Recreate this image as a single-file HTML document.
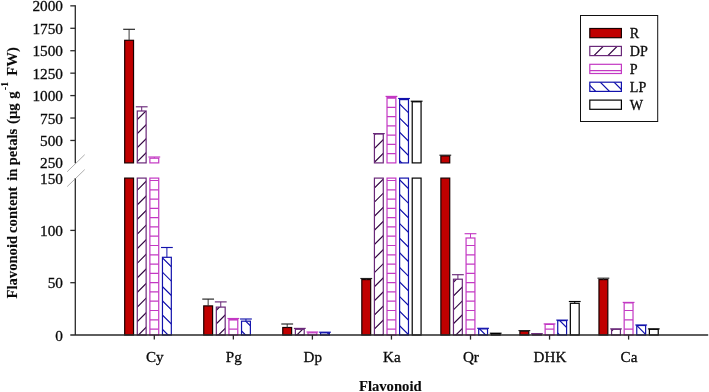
<!DOCTYPE html>
<html><head><meta charset="utf-8"><title>Flavonoid content in petals</title>
<style>
html,body{margin:0;padding:0;background:#fff;}
body{width:709px;height:392px;overflow:hidden;}
svg text{font-family:"Liberation Serif","DejaVu Serif",serif;fill:#0a0a0a;stroke:#0a0a0a;stroke-width:0.3px;}
svg .b text, svg text.b{stroke-width:0.1px;}
</style></head><body>
<svg width="709" height="392" viewBox="0 0 709 392" style="display:block;will-change:transform">
<rect width="709" height="392" fill="#fff"/>
<rect x="124.68" y="40.30" width="8.85" height="122.60" fill="#c00000" stroke="#1a0000" stroke-width="1.2"/><path d="M129.10,40.30V29.30" stroke="#3a3a3a" stroke-width="1" fill="none"/><path d="M123.20,29.30H135.00" stroke="#222" stroke-width="1.15" fill="none"/>
<rect x="124.68" y="178.10" width="8.85" height="156.90" fill="#c00000" stroke="#1a0000" stroke-width="1.2"/>
<clipPath id="c1"><rect x="137.28" y="111.00" width="8.85" height="51.90"/></clipPath><rect x="137.28" y="111.00" width="8.85" height="51.90" fill="#fff"/><path clip-path="url(#c1)" d="M135.28,79.60L148.12,66.75M135.28,93.60L148.12,80.75M135.28,107.60L148.12,94.75M135.28,121.60L148.12,108.75M135.28,135.60L148.12,122.75M135.28,149.60L148.12,136.75M135.28,163.60L148.12,150.75M135.28,177.60L148.12,164.75M135.28,191.60L148.12,178.75" stroke="#350a44" stroke-width="1.2" fill="none"/><rect x="137.28" y="111.00" width="8.85" height="51.90" fill="none" stroke="#6a2879" stroke-width="1.2"/><path d="M141.70,111.00V106.80" stroke="#6a2879" stroke-width="1" fill="none"/><path d="M135.80,106.80H147.60" stroke="#6a2879" stroke-width="1.15" fill="none"/>
<clipPath id="c2"><rect x="137.28" y="178.10" width="8.85" height="156.90"/></clipPath><rect x="137.28" y="178.10" width="8.85" height="156.90" fill="#fff"/><path clip-path="url(#c2)" d="M135.28,148.40L148.12,135.55M135.28,163.00L148.12,150.15M135.28,177.60L148.12,164.75M135.28,192.20L148.12,179.35M135.28,206.80L148.12,193.95M135.28,221.40L148.12,208.55M135.28,236.00L148.12,223.15M135.28,250.60L148.12,237.75M135.28,265.20L148.12,252.35M135.28,279.80L148.12,266.95M135.28,294.40L148.12,281.55M135.28,309.00L148.12,296.15M135.28,323.60L148.12,310.75M135.28,338.20L148.12,325.35M135.28,352.80L148.12,339.95M135.28,367.40L148.12,354.55" stroke="#350a44" stroke-width="1.2" fill="none"/><rect x="137.28" y="178.10" width="8.85" height="156.90" fill="none" stroke="#6a2879" stroke-width="1.2"/>
<clipPath id="c3"><rect x="149.88" y="158.20" width="8.85" height="4.70"/></clipPath><rect x="149.88" y="158.20" width="8.85" height="4.70" fill="#fff"/><rect x="149.88" y="158.20" width="8.85" height="4.70" fill="none" stroke="#c338c3" stroke-width="1.2"/><path d="M154.30,158.20V157.00" stroke="#c338c3" stroke-width="1" fill="none"/><path d="M148.40,157.00H160.20" stroke="#c338c3" stroke-width="1.15" fill="none"/>
<clipPath id="c4"><rect x="149.88" y="178.10" width="8.85" height="156.90"/></clipPath><rect x="149.88" y="178.10" width="8.85" height="156.90" fill="#fff"/><path clip-path="url(#c4)" d="M149.88,329.07h8.85M149.88,319.78h8.85M149.88,310.50h8.85M149.88,301.21h8.85M149.88,291.93h8.85M149.88,282.64h8.85M149.88,273.35h8.85M149.88,264.07h8.85M149.88,254.78h8.85M149.88,245.50h8.85M149.88,236.21h8.85M149.88,226.92h8.85M149.88,217.64h8.85M149.88,208.35h8.85M149.88,199.07h8.85M149.88,189.78h8.85M149.88,180.49h8.85" stroke="#c338c3" stroke-width="1.2" fill="none"/><rect x="149.88" y="178.10" width="8.85" height="156.90" fill="none" stroke="#c338c3" stroke-width="1.2"/>
<clipPath id="c5"><rect x="162.47" y="257.30" width="8.85" height="77.70"/></clipPath><rect x="162.47" y="257.30" width="8.85" height="77.70" fill="#fff"/><path clip-path="url(#c5)" d="M160.47,227.30L173.32,240.15M160.47,241.60L173.32,254.45M160.47,255.90L173.32,268.75M160.47,270.20L173.32,283.05M160.47,284.50L173.32,297.35M160.47,298.80L173.32,311.65M160.47,313.10L173.32,325.95M160.47,327.40L173.32,340.25M160.47,341.70L173.32,354.55M160.47,356.00L173.32,368.85M160.47,370.30L173.32,383.15" stroke="#1212ac" stroke-width="1.2" fill="none"/><rect x="162.47" y="257.30" width="8.85" height="77.70" fill="none" stroke="#1212ac" stroke-width="1.2"/><path d="M166.90,257.30V247.50" stroke="#1212ac" stroke-width="1" fill="none"/><path d="M161.00,247.50H172.80" stroke="#1212ac" stroke-width="1.15" fill="none"/>
<rect x="203.73" y="305.90" width="8.85" height="29.10" fill="#c00000" stroke="#1a0000" stroke-width="1.2"/><path d="M208.15,305.90V299.10" stroke="#3a3a3a" stroke-width="1" fill="none"/><path d="M202.25,299.10H214.05" stroke="#222" stroke-width="1.15" fill="none"/>
<clipPath id="c6"><rect x="216.33" y="307.10" width="8.85" height="27.90"/></clipPath><rect x="216.33" y="307.10" width="8.85" height="27.90" fill="#fff"/><path clip-path="url(#c6)" d="M214.33,285.20L227.18,272.35M214.33,298.70L227.18,285.85M214.33,312.20L227.18,299.35M214.33,325.70L227.18,312.85M214.33,339.20L227.18,326.35M214.33,352.70L227.18,339.85M214.33,366.20L227.18,353.35" stroke="#350a44" stroke-width="1.2" fill="none"/><rect x="216.33" y="307.10" width="8.85" height="27.90" fill="none" stroke="#6a2879" stroke-width="1.2"/><path d="M220.75,307.10V301.90" stroke="#6a2879" stroke-width="1" fill="none"/><path d="M214.85,301.90H226.65" stroke="#6a2879" stroke-width="1.15" fill="none"/>
<clipPath id="c7"><rect x="228.93" y="319.50" width="8.85" height="15.50"/></clipPath><rect x="228.93" y="319.50" width="8.85" height="15.50" fill="#fff"/><path clip-path="url(#c7)" d="M228.93,329.07h8.85M228.93,319.78h8.85" stroke="#c338c3" stroke-width="1.2" fill="none"/><rect x="228.93" y="319.50" width="8.85" height="15.50" fill="none" stroke="#c338c3" stroke-width="1.2"/><path d="M233.35,319.50V318.50" stroke="#c338c3" stroke-width="1" fill="none"/><path d="M227.45,318.50H239.25" stroke="#c338c3" stroke-width="1.15" fill="none"/>
<clipPath id="c8"><rect x="241.53" y="321.20" width="8.85" height="13.80"/></clipPath><rect x="241.53" y="321.20" width="8.85" height="13.80" fill="#fff"/><path clip-path="url(#c8)" d="M239.53,287.00L252.38,299.85M239.53,301.00L252.38,313.85M239.53,315.00L252.38,327.85M239.53,329.00L252.38,341.85M239.53,343.00L252.38,355.85M239.53,357.00L252.38,369.85" stroke="#1212ac" stroke-width="1.2" fill="none"/><rect x="241.53" y="321.20" width="8.85" height="13.80" fill="none" stroke="#1212ac" stroke-width="1.2"/><path d="M245.95,321.20V319.00" stroke="#1212ac" stroke-width="1" fill="none"/><path d="M240.05,319.00H251.85" stroke="#1212ac" stroke-width="1.15" fill="none"/>
<rect x="282.77" y="327.50" width="8.85" height="7.50" fill="#c00000" stroke="#1a0000" stroke-width="1.2"/><path d="M287.20,327.50V324.00" stroke="#3a3a3a" stroke-width="1" fill="none"/><path d="M281.30,324.00H293.10" stroke="#222" stroke-width="1.15" fill="none"/>
<clipPath id="c9"><rect x="295.37" y="329.30" width="8.85" height="5.70"/></clipPath><rect x="295.37" y="329.30" width="8.85" height="5.70" fill="#fff"/><path clip-path="url(#c9)" d="M293.37,296.50L306.22,283.65M293.37,310.50L306.22,297.65M293.37,324.50L306.22,311.65M293.37,338.50L306.22,325.65M293.37,352.50L306.22,339.65M293.37,366.50L306.22,353.65" stroke="#350a44" stroke-width="1.2" fill="none"/><rect x="295.37" y="329.30" width="8.85" height="5.70" fill="none" stroke="#6a2879" stroke-width="1.2"/><path d="M299.80,329.30V328.40" stroke="#6a2879" stroke-width="1" fill="none"/><path d="M293.90,328.40H305.70" stroke="#6a2879" stroke-width="1.15" fill="none"/>
<clipPath id="c10"><rect x="307.97" y="332.80" width="8.85" height="2.20"/></clipPath><rect x="307.97" y="332.80" width="8.85" height="2.20" fill="#fff"/><rect x="307.97" y="332.80" width="8.85" height="2.20" fill="none" stroke="#c338c3" stroke-width="1.2"/><path d="M312.40,332.80V332.00" stroke="#c338c3" stroke-width="1" fill="none"/><path d="M306.50,332.00H318.30" stroke="#c338c3" stroke-width="1.15" fill="none"/>
<clipPath id="c11"><rect x="320.57" y="332.80" width="8.85" height="2.20"/></clipPath><rect x="320.57" y="332.80" width="8.85" height="2.20" fill="#fff"/><path clip-path="url(#c11)" d="M318.57,296.00L331.43,308.85M318.57,310.00L331.43,322.85M318.57,324.00L331.43,336.85M318.57,338.00L331.43,350.85M318.57,352.00L331.43,364.85M318.57,366.00L331.43,378.85" stroke="#1212ac" stroke-width="1.2" fill="none"/><rect x="320.57" y="332.80" width="8.85" height="2.20" fill="none" stroke="#1212ac" stroke-width="1.2"/><path d="M325.00,332.80V332.20" stroke="#1212ac" stroke-width="1" fill="none"/><path d="M319.10,332.20H330.90" stroke="#1212ac" stroke-width="1.15" fill="none"/>
<rect x="361.82" y="279.60" width="8.85" height="55.40" fill="#c00000" stroke="#1a0000" stroke-width="1.2"/><path d="M366.25,279.60V278.50" stroke="#3a3a3a" stroke-width="1" fill="none"/><path d="M360.35,278.50H372.15" stroke="#222" stroke-width="1.15" fill="none"/>
<clipPath id="c12"><rect x="374.42" y="134.00" width="8.85" height="28.90"/></clipPath><rect x="374.42" y="134.00" width="8.85" height="28.90" fill="#fff"/><path clip-path="url(#c12)" d="M372.42,109.10L385.27,96.25M372.42,122.90L385.27,110.05M372.42,136.70L385.27,123.85M372.42,150.50L385.27,137.65M372.42,164.30L385.27,151.45M372.42,178.10L385.27,165.25M372.42,191.90L385.27,179.05" stroke="#350a44" stroke-width="1.2" fill="none"/><rect x="374.42" y="134.00" width="8.85" height="28.90" fill="none" stroke="#6a2879" stroke-width="1.2"/><path d="M378.85,134.00V133.60" stroke="#6a2879" stroke-width="1" fill="none"/><path d="M372.95,133.60H384.75" stroke="#6a2879" stroke-width="1.15" fill="none"/>
<clipPath id="c13"><rect x="374.42" y="178.10" width="8.85" height="156.90"/></clipPath><rect x="374.42" y="178.10" width="8.85" height="156.90" fill="#fff"/><path clip-path="url(#c13)" d="M372.42,147.70L385.27,134.85M372.42,161.80L385.27,148.95M372.42,175.90L385.27,163.05M372.42,190.00L385.27,177.15M372.42,204.10L385.27,191.25M372.42,218.20L385.27,205.35M372.42,232.30L385.27,219.45M372.42,246.40L385.27,233.55M372.42,260.50L385.27,247.65M372.42,274.60L385.27,261.75M372.42,288.70L385.27,275.85M372.42,302.80L385.27,289.95M372.42,316.90L385.27,304.05M372.42,331.00L385.27,318.15M372.42,345.10L385.27,332.25M372.42,359.20L385.27,346.35M372.42,373.30L385.27,360.45" stroke="#350a44" stroke-width="1.2" fill="none"/><rect x="374.42" y="178.10" width="8.85" height="156.90" fill="none" stroke="#6a2879" stroke-width="1.2"/>
<clipPath id="c14"><rect x="387.02" y="97.50" width="8.85" height="65.40"/></clipPath><rect x="387.02" y="97.50" width="8.85" height="65.40" fill="#fff"/><path clip-path="url(#c14)" d="M387.02,153.70h8.85M387.02,144.43h8.85M387.02,135.16h8.85M387.02,125.89h8.85M387.02,116.62h8.85M387.02,107.35h8.85M387.02,98.08h8.85" stroke="#c338c3" stroke-width="1.2" fill="none"/><rect x="387.02" y="97.50" width="8.85" height="65.40" fill="none" stroke="#c338c3" stroke-width="1.2"/><path d="M391.45,97.50V96.40" stroke="#c338c3" stroke-width="1" fill="none"/><path d="M385.55,96.40H397.35" stroke="#c338c3" stroke-width="1.15" fill="none"/>
<clipPath id="c15"><rect x="387.02" y="178.10" width="8.85" height="156.90"/></clipPath><rect x="387.02" y="178.10" width="8.85" height="156.90" fill="#fff"/><path clip-path="url(#c15)" d="M387.02,329.07h8.85M387.02,319.78h8.85M387.02,310.50h8.85M387.02,301.21h8.85M387.02,291.93h8.85M387.02,282.64h8.85M387.02,273.35h8.85M387.02,264.07h8.85M387.02,254.78h8.85M387.02,245.50h8.85M387.02,236.21h8.85M387.02,226.92h8.85M387.02,217.64h8.85M387.02,208.35h8.85M387.02,199.07h8.85M387.02,189.78h8.85M387.02,180.49h8.85" stroke="#c338c3" stroke-width="1.2" fill="none"/><rect x="387.02" y="178.10" width="8.85" height="156.90" fill="none" stroke="#c338c3" stroke-width="1.2"/>
<clipPath id="c16"><rect x="399.62" y="99.60" width="8.85" height="63.30"/></clipPath><rect x="399.62" y="99.60" width="8.85" height="63.30" fill="#fff"/><path clip-path="url(#c16)" d="M397.62,73.50L410.48,86.35M397.62,87.70L410.48,100.55M397.62,101.90L410.48,114.75M397.62,116.10L410.48,128.95M397.62,130.30L410.48,143.15M397.62,144.50L410.48,157.35M397.62,158.70L410.48,171.55M397.62,172.90L410.48,185.75M397.62,187.10L410.48,199.95" stroke="#1212ac" stroke-width="1.2" fill="none"/><rect x="399.62" y="99.60" width="8.85" height="63.30" fill="none" stroke="#1212ac" stroke-width="1.2"/><path d="M404.05,99.60V98.50" stroke="#1212ac" stroke-width="1" fill="none"/><path d="M398.15,98.50H409.95" stroke="#1212ac" stroke-width="1.15" fill="none"/>
<clipPath id="c17"><rect x="399.62" y="178.10" width="8.85" height="156.90"/></clipPath><rect x="399.62" y="178.10" width="8.85" height="156.90" fill="#fff"/><path clip-path="url(#c17)" d="M397.62,148.60L410.48,161.45M397.62,163.20L410.48,176.05M397.62,177.80L410.48,190.65M397.62,192.40L410.48,205.25M397.62,207.00L410.48,219.85M397.62,221.60L410.48,234.45M397.62,236.20L410.48,249.05M397.62,250.80L410.48,263.65M397.62,265.40L410.48,278.25M397.62,280.00L410.48,292.85M397.62,294.60L410.48,307.45M397.62,309.20L410.48,322.05M397.62,323.80L410.48,336.65M397.62,338.40L410.48,351.25M397.62,353.00L410.48,365.85M397.62,367.60L410.48,380.45" stroke="#1212ac" stroke-width="1.2" fill="none"/><rect x="399.62" y="178.10" width="8.85" height="156.90" fill="none" stroke="#1212ac" stroke-width="1.2"/>
<rect x="412.22" y="101.80" width="8.85" height="61.10" fill="#fff" stroke="#000" stroke-width="1.2"/><path d="M416.65,101.80V101.20" stroke="#000" stroke-width="1" fill="none"/><path d="M410.75,101.20H422.55" stroke="#000" stroke-width="1.15" fill="none"/>
<rect x="412.22" y="178.10" width="8.85" height="156.90" fill="#fff" stroke="#000" stroke-width="1.2"/>
<rect x="440.88" y="155.90" width="8.85" height="7.00" fill="#c00000" stroke="#1a0000" stroke-width="1.2"/><path d="M445.30,155.90V155.20" stroke="#3a3a3a" stroke-width="1" fill="none"/><path d="M439.40,155.20H451.20" stroke="#222" stroke-width="1.15" fill="none"/>
<rect x="440.88" y="178.10" width="8.85" height="156.90" fill="#c00000" stroke="#1a0000" stroke-width="1.2"/>
<clipPath id="c18"><rect x="453.47" y="279.20" width="8.85" height="55.80"/></clipPath><rect x="453.47" y="279.20" width="8.85" height="55.80" fill="#fff"/><path clip-path="url(#c18)" d="M451.47,256.60L464.32,243.75M451.47,270.40L464.32,257.55M451.47,284.20L464.32,271.35M451.47,298.00L464.32,285.15M451.47,311.80L464.32,298.95M451.47,325.60L464.32,312.75M451.47,339.40L464.32,326.55M451.47,353.20L464.32,340.35M451.47,367.00L464.32,354.15" stroke="#350a44" stroke-width="1.2" fill="none"/><rect x="453.47" y="279.20" width="8.85" height="55.80" fill="none" stroke="#6a2879" stroke-width="1.2"/><path d="M457.90,279.20V274.70" stroke="#6a2879" stroke-width="1" fill="none"/><path d="M452.00,274.70H463.80" stroke="#6a2879" stroke-width="1.15" fill="none"/>
<clipPath id="c19"><rect x="466.07" y="238.00" width="8.85" height="97.00"/></clipPath><rect x="466.07" y="238.00" width="8.85" height="97.00" fill="#fff"/><path clip-path="url(#c19)" d="M466.07,329.07h8.85M466.07,319.78h8.85M466.07,310.50h8.85M466.07,301.21h8.85M466.07,291.93h8.85M466.07,282.64h8.85M466.07,273.35h8.85M466.07,264.07h8.85M466.07,254.78h8.85M466.07,245.50h8.85" stroke="#c338c3" stroke-width="1.2" fill="none"/><rect x="466.07" y="238.00" width="8.85" height="97.00" fill="none" stroke="#c338c3" stroke-width="1.2"/><path d="M470.50,238.00V233.70" stroke="#c338c3" stroke-width="1" fill="none"/><path d="M464.60,233.70H476.40" stroke="#c338c3" stroke-width="1.15" fill="none"/>
<clipPath id="c20"><rect x="478.68" y="328.90" width="8.85" height="6.10"/></clipPath><rect x="478.68" y="328.90" width="8.85" height="6.10" fill="#fff"/><path clip-path="url(#c20)" d="M476.68,298.00L489.53,310.85M476.68,312.00L489.53,324.85M476.68,326.00L489.53,338.85M476.68,340.00L489.53,352.85M476.68,354.00L489.53,366.85M476.68,368.00L489.53,380.85" stroke="#1212ac" stroke-width="1.2" fill="none"/><rect x="478.68" y="328.90" width="8.85" height="6.10" fill="none" stroke="#1212ac" stroke-width="1.2"/><path d="M483.10,328.90V328.30" stroke="#1212ac" stroke-width="1" fill="none"/><path d="M477.20,328.30H489.00" stroke="#1212ac" stroke-width="1.15" fill="none"/>
<rect x="491.27" y="333.60" width="8.85" height="1.40" fill="#fff" stroke="#000" stroke-width="1.2"/><path d="M495.70,333.60V333.20" stroke="#000" stroke-width="1" fill="none"/><path d="M489.80,333.20H501.60" stroke="#000" stroke-width="1.15" fill="none"/>
<rect x="519.92" y="331.10" width="8.85" height="3.90" fill="#c00000" stroke="#1a0000" stroke-width="1.2"/><path d="M524.35,331.10V330.60" stroke="#3a3a3a" stroke-width="1" fill="none"/><path d="M518.45,330.60H530.25" stroke="#222" stroke-width="1.15" fill="none"/>
<clipPath id="c21"><rect x="532.52" y="334.00" width="8.85" height="1.00"/></clipPath><rect x="532.52" y="334.00" width="8.85" height="1.00" fill="#fff"/><path clip-path="url(#c21)" d="M530.52,300.00L543.38,287.15M530.52,314.00L543.38,301.15M530.52,328.00L543.38,315.15M530.52,342.00L543.38,329.15M530.52,356.00L543.38,343.15M530.52,370.00L543.38,357.15" stroke="#350a44" stroke-width="1.2" fill="none"/><rect x="532.52" y="334.00" width="8.85" height="1.00" fill="none" stroke="#6a2879" stroke-width="1.2"/><path d="M536.95,334.00V333.70" stroke="#6a2879" stroke-width="1" fill="none"/><path d="M531.05,333.70H542.85" stroke="#6a2879" stroke-width="1.15" fill="none"/>
<clipPath id="c22"><rect x="545.12" y="324.40" width="8.85" height="10.60"/></clipPath><rect x="545.12" y="324.40" width="8.85" height="10.60" fill="#fff"/><path clip-path="url(#c22)" d="M545.12,329.07h8.85" stroke="#c338c3" stroke-width="1.2" fill="none"/><rect x="545.12" y="324.40" width="8.85" height="10.60" fill="none" stroke="#c338c3" stroke-width="1.2"/><path d="M549.55,324.40V323.90" stroke="#c338c3" stroke-width="1" fill="none"/><path d="M543.65,323.90H555.45" stroke="#c338c3" stroke-width="1.15" fill="none"/>
<clipPath id="c23"><rect x="557.73" y="320.60" width="8.85" height="14.40"/></clipPath><rect x="557.73" y="320.60" width="8.85" height="14.40" fill="#fff"/><path clip-path="url(#c23)" d="M555.73,287.60L568.58,300.45M555.73,302.10L568.58,314.95M555.73,316.60L568.58,329.45M555.73,331.10L568.58,343.95M555.73,345.60L568.58,358.45M555.73,360.10L568.58,372.95" stroke="#1212ac" stroke-width="1.2" fill="none"/><rect x="557.73" y="320.60" width="8.85" height="14.40" fill="none" stroke="#1212ac" stroke-width="1.2"/><path d="M562.15,320.60V320.10" stroke="#1212ac" stroke-width="1" fill="none"/><path d="M556.25,320.10H568.05" stroke="#1212ac" stroke-width="1.15" fill="none"/>
<rect x="570.33" y="303.30" width="8.85" height="31.70" fill="#fff" stroke="#000" stroke-width="1.2"/><path d="M574.75,303.30V301.50" stroke="#000" stroke-width="1" fill="none"/><path d="M568.85,301.50H580.65" stroke="#000" stroke-width="1.15" fill="none"/>
<rect x="598.97" y="279.60" width="8.85" height="55.40" fill="#c00000" stroke="#1a0000" stroke-width="1.2"/><path d="M603.40,279.60V278.20" stroke="#3a3a3a" stroke-width="1" fill="none"/><path d="M597.50,278.20H609.30" stroke="#222" stroke-width="1.15" fill="none"/>
<clipPath id="c24"><rect x="611.57" y="329.30" width="8.85" height="5.70"/></clipPath><rect x="611.57" y="329.30" width="8.85" height="5.70" fill="#fff"/><path clip-path="url(#c24)" d="M609.57,305.00L622.42,292.15M609.57,319.00L622.42,306.15M609.57,333.00L622.42,320.15M609.57,347.00L622.42,334.15M609.57,361.00L622.42,348.15" stroke="#350a44" stroke-width="1.2" fill="none"/><rect x="611.57" y="329.30" width="8.85" height="5.70" fill="none" stroke="#6a2879" stroke-width="1.2"/><path d="M616.00,329.30V328.90" stroke="#6a2879" stroke-width="1" fill="none"/><path d="M610.10,328.90H621.90" stroke="#6a2879" stroke-width="1.15" fill="none"/>
<clipPath id="c25"><rect x="624.17" y="302.90" width="8.85" height="32.10"/></clipPath><rect x="624.17" y="302.90" width="8.85" height="32.10" fill="#fff"/><path clip-path="url(#c25)" d="M624.17,329.07h8.85M624.17,319.78h8.85M624.17,310.50h8.85" stroke="#c338c3" stroke-width="1.2" fill="none"/><rect x="624.17" y="302.90" width="8.85" height="32.10" fill="none" stroke="#c338c3" stroke-width="1.2"/><path d="M628.60,302.90V302.40" stroke="#c338c3" stroke-width="1" fill="none"/><path d="M622.70,302.40H634.50" stroke="#c338c3" stroke-width="1.15" fill="none"/>
<clipPath id="c26"><rect x="636.77" y="325.50" width="8.85" height="9.50"/></clipPath><rect x="636.77" y="325.50" width="8.85" height="9.50" fill="#fff"/><path clip-path="url(#c26)" d="M634.77,294.50L647.62,307.35M634.77,309.00L647.62,321.85M634.77,323.50L647.62,336.35M634.77,338.00L647.62,350.85M634.77,352.50L647.62,365.35M634.77,367.00L647.62,379.85" stroke="#1212ac" stroke-width="1.2" fill="none"/><rect x="636.77" y="325.50" width="8.85" height="9.50" fill="none" stroke="#1212ac" stroke-width="1.2"/><path d="M641.20,325.50V325.00" stroke="#1212ac" stroke-width="1" fill="none"/><path d="M635.30,325.00H647.10" stroke="#1212ac" stroke-width="1.15" fill="none"/>
<rect x="649.38" y="329.30" width="8.85" height="5.70" fill="#fff" stroke="#000" stroke-width="1.2"/><path d="M653.80,329.30V328.90" stroke="#000" stroke-width="1" fill="none"/><path d="M647.90,328.90H659.70" stroke="#000" stroke-width="1.15" fill="none"/>
<path d="M75.3,5.25 V163.20000000000002 M75.3,177.9 V335.0 M70.3,335.0 H708.2" stroke="#2a2a2a" stroke-width="1.3" fill="none"/>
<path d="M70.3,5.85 H75.3" stroke="#2a2a2a" stroke-width="1.3"/>
<path d="M70.3,28.29 H75.3" stroke="#2a2a2a" stroke-width="1.3"/>
<path d="M70.3,50.72 H75.3" stroke="#2a2a2a" stroke-width="1.3"/>
<path d="M70.3,73.16 H75.3" stroke="#2a2a2a" stroke-width="1.3"/>
<path d="M70.3,95.59 H75.3" stroke="#2a2a2a" stroke-width="1.3"/>
<path d="M70.3,118.03 H75.3" stroke="#2a2a2a" stroke-width="1.3"/>
<path d="M70.3,140.46 H75.3" stroke="#2a2a2a" stroke-width="1.3"/>
<path d="M70.3,230.40 H75.3" stroke="#2a2a2a" stroke-width="1.3"/>
<path d="M70.3,282.70 H75.3" stroke="#2a2a2a" stroke-width="1.3"/>
<path d="M154.30,335.0 V339.6" stroke="#2a2a2a" stroke-width="1.3"/>
<path d="M233.35,335.0 V339.6" stroke="#2a2a2a" stroke-width="1.3"/>
<path d="M312.40,335.0 V339.6" stroke="#2a2a2a" stroke-width="1.3"/>
<path d="M391.45,335.0 V339.6" stroke="#2a2a2a" stroke-width="1.3"/>
<path d="M470.50,335.0 V339.6" stroke="#2a2a2a" stroke-width="1.3"/>
<path d="M549.55,335.0 V339.6" stroke="#2a2a2a" stroke-width="1.3"/>
<path d="M628.60,335.0 V339.6" stroke="#2a2a2a" stroke-width="1.3"/>
<path d="M67.2,171.7 L84.7,154.7 M67.2,186.6 L84.7,169.6" stroke="#8a8a8a" stroke-width="0.7" fill="none"/>
<text x="63.0" y="11.35" text-anchor="end" font-size="15.3">2000</text>
<text x="63.0" y="33.79" text-anchor="end" font-size="15.3">1750</text>
<text x="63.0" y="56.22" text-anchor="end" font-size="15.3">1500</text>
<text x="63.0" y="78.66" text-anchor="end" font-size="15.3">1250</text>
<text x="63.0" y="101.09" text-anchor="end" font-size="15.3">1000</text>
<text x="63.0" y="123.53" text-anchor="end" font-size="15.3">750</text>
<text x="63.0" y="145.96" text-anchor="end" font-size="15.3">500</text>
<text x="63.0" y="168.40" text-anchor="end" font-size="15.3">250</text>
<text x="63.0" y="183.60" text-anchor="end" font-size="15.3">150</text>
<text x="63.0" y="235.90" text-anchor="end" font-size="15.3">100</text>
<text x="63.0" y="288.20" text-anchor="end" font-size="15.3">50</text>
<text x="63.0" y="340.50" text-anchor="end" font-size="15.3">0</text>
<text x="154.70" y="362" text-anchor="middle" font-size="15.1">Cy</text>
<text x="233.75" y="362" text-anchor="middle" font-size="15.1">Pg</text>
<text x="312.80" y="362" text-anchor="middle" font-size="15.1">Dp</text>
<text x="391.85" y="362" text-anchor="middle" font-size="15.1">Ka</text>
<text x="470.90" y="362" text-anchor="middle" font-size="15.1">Qr</text>
<text x="549.95" y="362" text-anchor="middle" font-size="15.1">DHK</text>
<text x="629.00" y="362" text-anchor="middle" font-size="15.1">Ca</text>
<text x="390.3" y="390.6" text-anchor="middle" class="b" font-size="14.65" font-weight="bold">Flavonoid</text>
<g transform="translate(17.0,0) rotate(-90)" class="b" font-size="14.65" font-weight="bold">
<text x="-298.50" y="0">Flavonoid</text>
<text x="-232.90" y="0">content</text>
<text x="-180.80" y="0">in</text>
<text x="-165.30" y="0">petals</text>
<text x="-124.00" y="0">(µg</text>
<text x="-98.80" y="0">g</text>
<text x="-75.70" y="0">FW)</text>
<text x="-90.0" y="-9.3" font-size="9.5">-1</text>
</g>
<rect x="580.5" y="15.5" width="77.2" height="106" fill="#fff" stroke="#111" stroke-width="1.0"/>
<rect x="589.8" y="28.50" width="31.6" height="9.2" fill="#c00000" stroke="#1a0000" stroke-width="1.2"/>
<text x="629.8" y="38.00" font-size="14.1">R</text>
<clipPath id="l1"><rect x="589.8" y="46.40" width="31.6" height="9.2"/></clipPath>
<rect x="589.8" y="46.40" width="31.6" height="9.2" fill="#fff"/><path clip-path="url(#l1)" d="M578.20,57.60l13.2,-13.2M592.00,57.60l13.2,-13.2M605.90,57.60l13.2,-13.2M619.70,57.60l13.2,-13.2" stroke="#350a44" stroke-width="1.2" fill="none"/><rect x="589.8" y="46.40" width="31.6" height="9.2" fill="none" stroke="#6a2879" stroke-width="1.2"/>
<text x="629.8" y="55.90" font-size="14.1">DP</text>
<clipPath id="l2"><rect x="589.8" y="64.30" width="31.6" height="9.2"/></clipPath>
<rect x="589.8" y="64.30" width="31.6" height="9.2" fill="#fff"/><path clip-path="url(#l2)" d="M589.8,70.56h31.6" stroke="#c338c3" stroke-width="1.2" fill="none"/><rect x="589.8" y="64.30" width="31.6" height="9.2" fill="none" stroke="#c338c3" stroke-width="1.2"/>
<text x="629.8" y="73.80" font-size="14.1">P</text>
<clipPath id="l3"><rect x="589.8" y="82.20" width="31.6" height="9.2"/></clipPath>
<rect x="589.8" y="82.20" width="31.6" height="9.2" fill="#fff"/><path clip-path="url(#l3)" d="M584.50,80.20l13.2,13.2M598.30,80.20l13.2,13.2M612.10,80.20l13.2,13.2" stroke="#1212ac" stroke-width="1.2" fill="none"/><rect x="589.8" y="82.20" width="31.6" height="9.2" fill="none" stroke="#1212ac" stroke-width="1.2"/>
<text x="629.8" y="91.70" font-size="14.1">LP</text>
<rect x="589.8" y="100.10" width="31.6" height="9.2" fill="#fff" stroke="#000" stroke-width="1.2"/>
<text x="629.8" y="109.60" font-size="14.1">W</text>
</svg>
</body></html>
